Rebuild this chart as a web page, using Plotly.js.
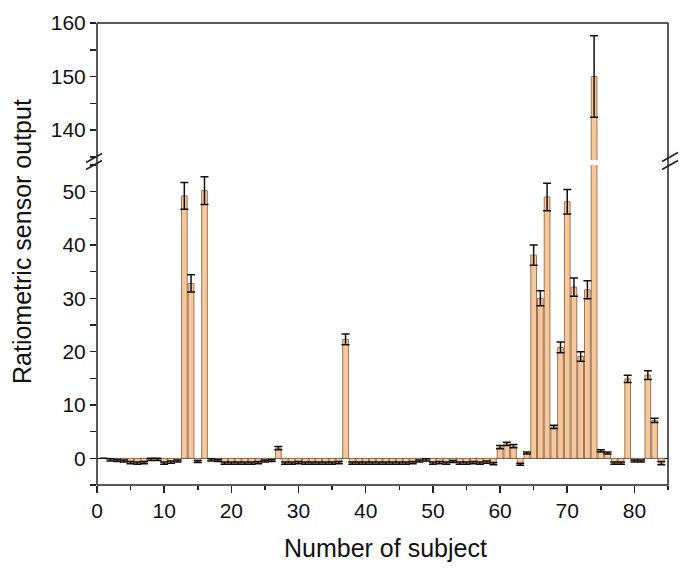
<!DOCTYPE html>
<html>
<head>
<meta charset="utf-8">
<script src="https://cdn.plot.ly/plotly-3.0.1.min.js"></script>
<style>
  html, body { margin: 0; padding: 0; background: #fff; }
  #plotArea { width: 685px; height: 575px; }
</style>
</head>
<body>
<div id="plotArea"></div>
<script>
// subject numbers and sensor output (mean, sd)
var subjects = [1, 2, 3, 4, 5, 6, 7, 8, 9, 10, 11, 12, 13, 14, 15, 16, 17, 18, 19, 20,
  21, 22, 23, 24, 25, 26, 27, 28, 29, 30, 31, 32, 33, 34, 35, 36, 37, 38, 39, 40,
  41, 42, 43, 44, 45, 46, 47, 48, 49, 50, 51, 52, 53, 54, 55, 56, 57, 58, 59, 60,
  61, 62, 63, 64, 65, 66, 67, 68, 69, 70, 71, 72, 73, 74, 75, 76, 77, 78, 79, 80,
  81, 82, 83, 84];

var output = [0, -0.3, -0.4, -0.5, -0.8, -0.9, -0.8, -0.2, -0.2, -0.9,
  -0.7, -0.5, 49.2, 32.8, -0.6, 50.2, -0.3, -0.4, -0.9, -0.9,
  -0.9, -0.9, -0.9, -0.8, -0.5, -0.4, 1.9, -0.9, -0.9, -0.8,
  -0.9, -0.9, -0.9, -0.9, -0.9, -0.8, 22.3, -0.9, -0.9, -0.9,
  -0.9, -0.9, -0.9, -0.9, -0.9, -0.9, -0.8, -0.5, -0.3, -0.9,
  -0.8, -0.9, -0.6, -0.9, -0.9, -0.8, -0.9, -0.7, -1.0, 2.1,
  2.7, 2.3, -1.1, 1.0, 38.1, 30.0, 49.0, 5.9, 20.8, 48.1,
  32.1, 19.1, 31.6, 150.0, 1.4, 1.0, -0.9, -0.9, 14.9, -0.5,
  -0.5, 15.6, 7.1, -0.9];

var outputErr = [0, 0.2, 0.2, 0.2, 0.2, 0.2, 0.2, 0.2, 0.2, 0.2,
  0.2, 0.2, 2.5, 1.6, 0.2, 2.6, 0.2, 0.2, 0.2, 0.2,
  0.2, 0.2, 0.2, 0.2, 0.2, 0.2, 0.3, 0.2, 0.2, 0.2,
  0.2, 0.2, 0.2, 0.2, 0.2, 0.2, 1.0, 0.2, 0.2, 0.2,
  0.2, 0.2, 0.2, 0.2, 0.2, 0.2, 0.2, 0.2, 0.2, 0.2,
  0.2, 0.2, 0.2, 0.2, 0.2, 0.2, 0.2, 0.2, 0.2, 0.3,
  0.3, 0.3, 0.2, 0.2, 1.9, 1.4, 2.6, 0.3, 1.0, 2.3,
  1.7, 0.9, 1.7, 7.6, 0.2, 0.2, 0.2, 0.2, 0.7, 0.2,
  0.2, 0.8, 0.4, 0.3];

var xTicks = [0, 10, 20, 30, 40, 50, 60, 70, 80];
var lowTicks = [0, 10, 20, 30, 40, 50];
var highTicks = [140, 150, 160];

// plot area in px: x 97..668, y 23..485
var L = 97, R = 668, T = 23, B = 485;
function px(x) { return (x - L) / (R - L); }
function py(y) { return (B - y) / (B - T); }

var barStyle = {
  color: '#F8C89C',
  line: { color: '#9A7658', width: 1 }
};
var errStyle = {
  type: 'data', array: outputErr, visible: true,
  color: '#111', thickness: 1.5, width: 4
};

var lower = {
  x: subjects, y: output, type: 'bar', width: 0.85,
  marker: barStyle, error_y: errStyle,
  xaxis: 'x', yaxis: 'y', hoverinfo: 'x+y'
};
var upper = {
  x: subjects, y: output, type: 'bar', width: 0.85,
  marker: barStyle, error_y: errStyle,
  xaxis: 'x', yaxis: 'y2', hoverinfo: 'x+y'
};

var tickFont = { family: 'Arial, Liberation Sans, sans-serif', size: 21, color: '#111' };
var titleFont = { family: 'Arial, Liberation Sans, sans-serif', size: 25, color: '#111' };

var axisLine = { color: '#222', width: 1.5 };
var shapes = [
  // frame
  { type: 'line', xref: 'paper', yref: 'paper', x0: 0, x1: 1, y0: 1, y1: 1, line: axisLine },
  { type: 'line', xref: 'paper', yref: 'paper', x0: 0, x1: 1, y0: 0, y1: 0, line: axisLine },
  { type: 'line', xref: 'paper', yref: 'paper', x0: 0, x1: 0, y0: 0, y1: 1, line: axisLine },
  { type: 'line', xref: 'paper', yref: 'paper', x0: 1, x1: 1, y0: 0, y1: 1, line: axisLine }
];
// break marks "//" on both sides
[[L - 3, 158], [L - 3, 165], [R + 2, 157], [R + 2, 165]].forEach(function (p) {
  shapes.push({
    type: 'line', xref: 'paper', yref: 'paper',
    x0: px(p[0] - 8), y0: py(p[1] + 4.5), x1: px(p[0] + 8), y1: py(p[1] - 4.5),
    line: { color: '#222', width: 1.5 }
  });
});

var layout = {
  width: 685, height: 575,
  margin: { l: L, r: 685 - R, t: T, b: 575 - B, pad: 0 },
  paper_bgcolor: '#fff', plot_bgcolor: '#fff',
  showlegend: false,
  bargap: 0,
  xaxis: {
    range: [0, 85], tickvals: xTicks, ticks: 'outside', ticklen: 7, tickwidth: 1.5,
    tickcolor: '#222', showgrid: false, zeroline: false, showline: false,
    minor: { dtick: 5, tick0: 0, ticks: 'outside', ticklen: 4, tickwidth: 1.5, tickcolor: '#222', showgrid: false },
    tickfont: tickFont, anchor: 'y', fixedrange: true
  },
  yaxis: {
    domain: [0, py(165)], range: [-5, 55], tickvals: lowTicks,
    ticks: 'outside', ticklen: 6, tickwidth: 1.5, tickcolor: '#222',
    minor: { dtick: 5, tick0: 0, ticks: 'outside', ticklen: 6, tickwidth: 1.5, tickcolor: '#222', showgrid: false },
    showgrid: false, showline: false,
    zeroline: true, zerolinecolor: '#111', zerolinewidth: 1.5,
    tickfont: tickFont, anchor: 'x', fixedrange: true
  },
  yaxis2: {
    domain: [py(160), 1], range: [134.4, 160], tickvals: highTicks,
    ticks: 'outside', ticklen: 6, tickwidth: 1.5, tickcolor: '#222',
    minor: { dtick: 5, tick0: 0, ticks: 'outside', ticklen: 6, tickwidth: 1.5, tickcolor: '#222', showgrid: false },
    showgrid: false, showline: false, zeroline: false,
    tickfont: tickFont, anchor: 'x', fixedrange: true
  },
  shapes: shapes,
  annotations: [
    {
      text: 'Ratiometric sensor output', xref: 'paper', yref: 'paper',
      x: px(22), y: py(242), textangle: -90, showarrow: false,
      xanchor: 'center', yanchor: 'middle', font: titleFont
    },
    {
      text: 'Number of subject', xref: 'paper', yref: 'paper',
      x: px(385), y: py(548), showarrow: false,
      xanchor: 'center', yanchor: 'middle', font: titleFont
    }
  ]
};

Plotly.newPlot('plotArea', [lower, upper], layout, { displayModeBar: false, staticPlot: true });
</script>
</body>
</html>
